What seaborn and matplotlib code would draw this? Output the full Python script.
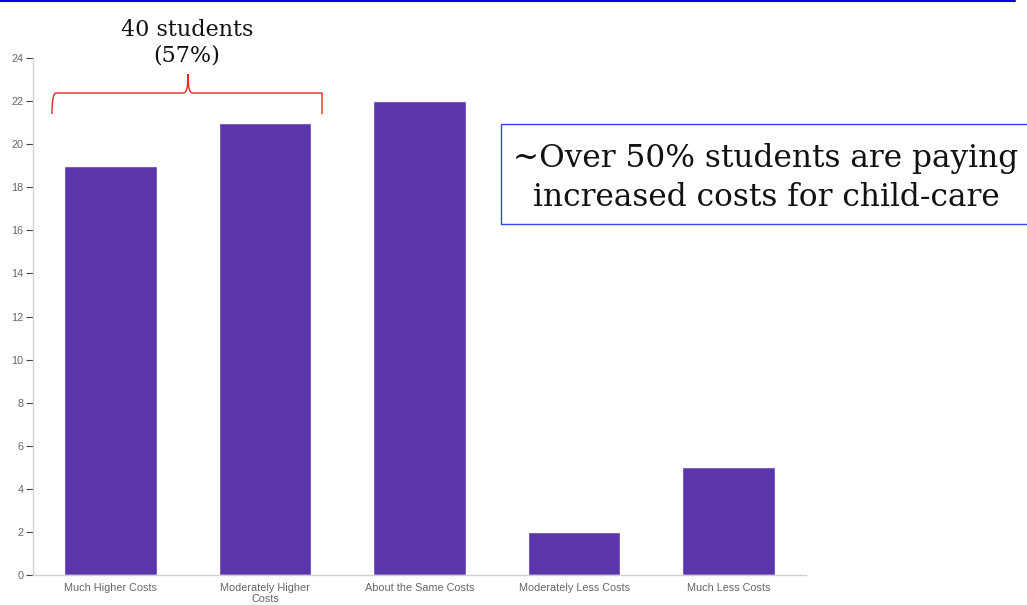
import matplotlib
matplotlib.use("Agg")
import matplotlib.pyplot as plt
import seaborn as sns
import pandas as pd
from matplotlib.patches import Rectangle, PathPatch
from matplotlib.path import Path
from matplotlib.lines import Line2D

categories = ["Much Higher Costs", "Moderately Higher\nCosts", "About the Same Costs",
              "Moderately Less Costs", "Much Less Costs"]
counts = [19, 21, 22, 2, 5]
y_ticks = list(range(0, 25, 2))

df = pd.DataFrame({"cat": categories, "n": counts})

sns.set_style("white")
W, H = 1027, 605
fig = plt.figure(figsize=(W / 100, H / 100), dpi=100)
ax = fig.add_axes([33 / W, 1 - 575 / H, (806 - 33) / W, (575 - 58) / H])

sns.barplot(data=df, x="cat", y="n", color="#5B35AB", saturation=1, width=0.6, ax=ax)

ax.set_xlim(-0.5, 4.5)
ax.set_ylim(0, 24)
ax.set_yticks(y_ticks)
ax.set_xlabel("")
ax.set_ylabel("")
for s in ["top", "right"]:
    ax.spines[s].set_visible(False)
for s in ["left", "bottom"]:
    ax.spines[s].set_color("#d0d0d0")
    ax.spines[s].set_linewidth(1)

lab_font = dict(family="Liberation Sans", size=7.8, color="#666666")
ax.set_xticks(range(len(categories)))
ax.set_xticklabels(categories, **lab_font, linespacing=1.05)
ax.tick_params(axis="x", which="major", length=0, pad=6)
ax.set_xticks([i + 0.5 for i in range(len(categories) - 1)], minor=True)
ax.tick_params(axis="x", which="minor", length=4, width=1, color="#222222", direction="out")
ax.set_yticklabels([str(t) for t in y_ticks], **lab_font)
ax.tick_params(axis="y", length=5, width=0.8, color="#444444", pad=2, left=True)

# blue line at the top edge
fig.add_artist(Line2D([0, 1015 / W], [1 - 1 / H, 1 - 1 / H], color="#0000ee", lw=1.5))

# red brace over the first two bars
def fpt(x, y):
    return (x / W, 1 - y / H)

verts = [fpt(52, 114), fpt(52, 93), fpt(56, 93), fpt(60, 93),
         fpt(183, 93), fpt(186, 93), fpt(188, 90), fpt(188, 74),
         fpt(188, 90), fpt(190, 93), fpt(193, 93),
         fpt(317, 93), fpt(321, 93), fpt(322, 93), fpt(322, 114)]
codes = [Path.MOVETO, Path.CURVE3, Path.CURVE3, Path.LINETO,
         Path.LINETO, Path.CURVE4, Path.CURVE4, Path.CURVE4,
         Path.CURVE4, Path.CURVE4, Path.CURVE4,
         Path.LINETO, Path.CURVE3, Path.CURVE3, Path.LINETO]
fig.add_artist(PathPatch(Path(verts, codes), transform=fig.transFigure,
                         fill=False, edgecolor="#ee2222", lw=1))

fig.text(187 / W, 1 - 43 / H, "40 students\n(57%)", ha="center", va="center",
         family="DejaVu Serif", size=16, color="#111111", linespacing=1.2)

# boxed note
fig.add_artist(Rectangle((501 / W, 1 - 224 / H), 540 / W, 100 / H, transform=fig.transFigure,
                         fill=False, edgecolor="#3344ee", lw=1))
fig.text(766 / W, 1 - 178 / H, "~Over 50% students are paying\nincreased costs for child-care",
         ha="center", va="center", family="DejaVu Serif", size=22.5, color="#111111",
         linespacing=1.3)

fig.savefig("out.png", dpi=100)
